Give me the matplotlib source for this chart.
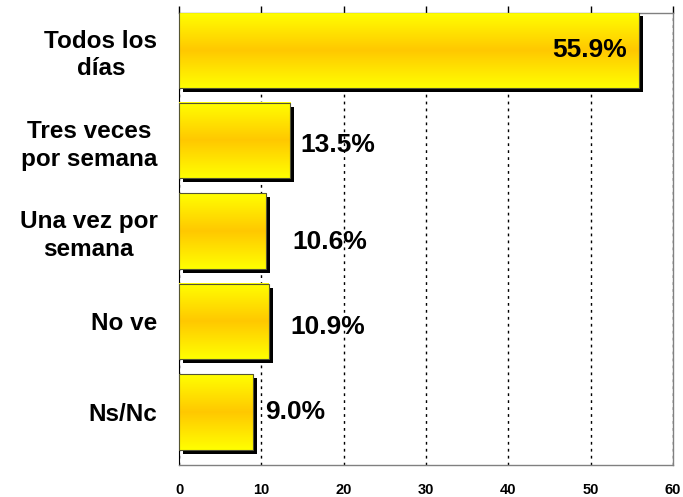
import numpy as np
import matplotlib
matplotlib.use("Agg")
import matplotlib.pyplot as plt
from matplotlib.colors import LinearSegmentedColormap
from matplotlib.patches import Rectangle
from matplotlib.transforms import ScaledTranslation

categories = ["Todos los\ndías", "Tres veces\npor semana", "Una vez por\nsemana", "No ve", "Ns/Nc"]
values = [55.9, 13.5, 10.6, 10.9, 9.0]
value_labels = ["55.9%", "13.5%", "10.6%", "10.9%", "9.0%"]
xticks = [0, 10, 20, 30, 40, 50, 60]

plt.rcParams['font.family'] = ['Liberation Sans', 'DejaVu Sans']

fig = plt.figure(figsize=(6.83, 4.97), dpi=100)
ax = fig.add_axes([179/683, 32/497, 494/683, 452/497])

cmap = LinearSegmentedColormap.from_list("g", ["#FFFF00", "#FFC800", "#FFFF00"])
grad = np.linspace(0, 1, 256).reshape(-1, 1)

h = 0.83
shadow_tr = ax.transData + ScaledTranslation(4/100, -4/100, fig.dpi_scale_trans)
for i, v in enumerate(values):
    y0 = i - h/2
    sh = Rectangle((0, y0), v, h, facecolor="black", edgecolor="none",
                   transform=shadow_tr, zorder=2)
    ax.add_patch(sh)
    ax.imshow(grad, cmap=cmap, extent=(0, v, y0 + h, y0), aspect="auto",
              zorder=3, interpolation="bilinear")
    ax.add_patch(Rectangle((0, y0), v, h, facecolor="none", edgecolor="#555533",
                           lw=0.8, zorder=4))

# value labels
ax.text(values[0] - 1.5, 0, value_labels[0], ha="right", va="center",
        fontsize=19, fontweight="bold", zorder=5)
offsets = [None, 1.2, 3.2, 2.6, 1.4]
yoffs = [0, 0.05, 0.12, 0.06, 0.0]
for i in range(1, len(values)):
    ax.text(values[i] + offsets[i], i + yoffs[i], value_labels[i], ha="left",
            va="center", fontsize=19, fontweight="bold", zorder=5)

ax.set_xlim(0, 60)
ax.set_ylim(4.586, -0.409)
ax.set_xticks(xticks)
ax.set_xticklabels([str(t) for t in xticks], fontsize=10.5, fontweight="bold")
ax.tick_params(axis="x", bottom=False, top=True, labelbottom=True, labeltop=False,
               direction="out", length=5, width=1, color="black", pad=8)
ax.set_yticks(range(len(categories)))
ax.set_yticklabels(categories, fontsize=17.5, fontweight="bold", multialignment="center",
                   linespacing=1.25)
ax.tick_params(axis="y", left=False, pad=12)

for x in xticks:
    ax.axvline(x, color="black", ls=(0, (2, 3)), lw=1, zorder=1)

ax.spines["left"].set_color("black")
for s in ["top", "right", "bottom"]:
    ax.spines[s].set_color("#808080")
    ax.spines[s].set_linewidth(1)

fig.savefig("out.png", dpi=100)
